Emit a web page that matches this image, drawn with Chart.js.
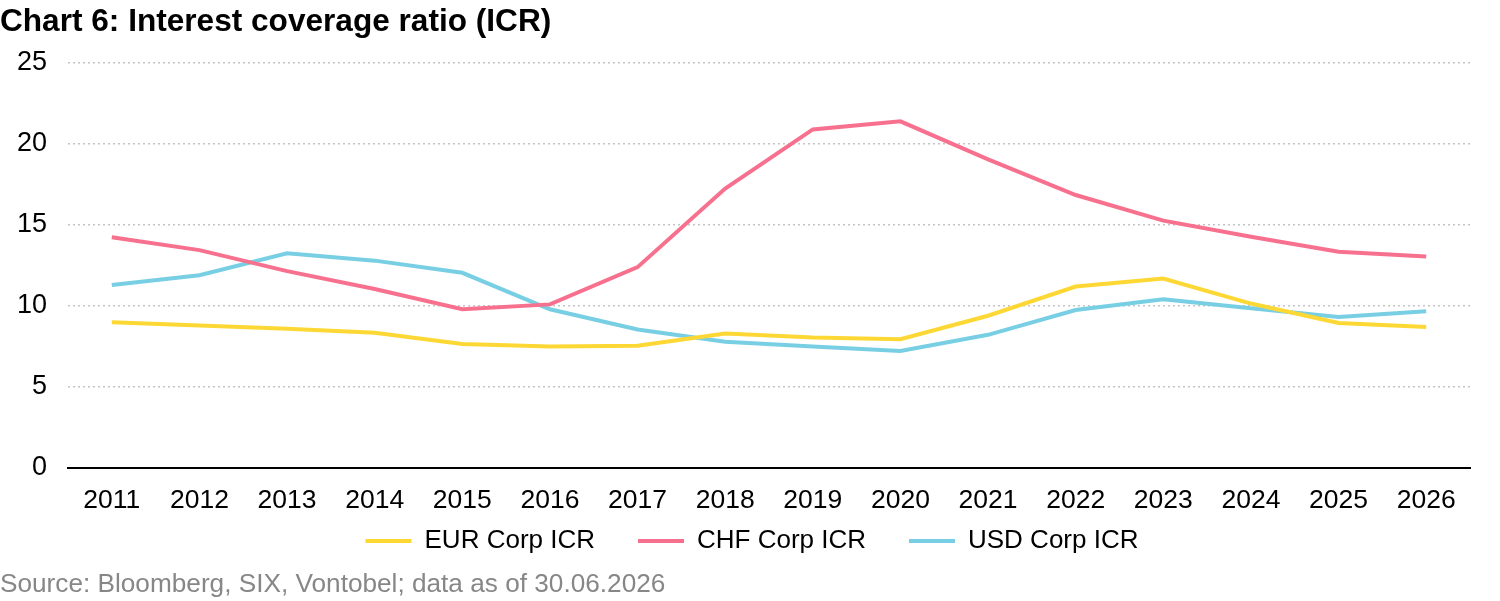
<!DOCTYPE html>
<html>
<head>
<meta charset="utf-8">
<script src="https://cdn.jsdelivr.net/npm/chart.js@4"></script>
<style>
  html, body { margin: 0; padding: 0; background: #fff; }
  body { width: 1500px; height: 601px; position: relative; overflow: hidden; font-family: "Liberation Sans", Arial, sans-serif; }
  #title { position: absolute; left: 0; top: 5px; font-size: 31.6px; line-height: 31px; font-weight: bold; color: #000; white-space: nowrap; }
  #source { position: absolute; left: 0; top: 570px; font-size: 26.2px; line-height: 26px; color: #878787; white-space: nowrap; }
  #wrap { position: absolute; left: 0; top: 0; width: 1500px; height: 601px; }
</style>
</head>
<body>
<div id="wrap"><canvas id="icrChart"></canvas></div>
<div id="title">Chart 6: Interest coverage ratio (ICR)</div>
<div id="source">Source: Bloomberg, SIX, Vontobel; data as of 30.06.2026</div>
<script>
// data
const years = ["2011", "2012", "2013", "2014", "2015", "2016", "2017", "2018",
  "2019", "2020", "2021", "2022", "2023", "2024", "2025", "2026"];
const eurIcr = [9.0, 8.8, 8.6, 8.35, 7.65, 7.5, 7.55, 8.3, 8.05, 7.95, 9.4, 11.2, 11.7, 10.15, 8.95, 8.7];
const chfIcr = [14.25, 13.45, 12.15, 11.05, 9.8, 10.1, 12.4, 17.25, 20.9, 21.4, 19.05, 16.85, 15.27, 14.28, 13.35, 13.05];
const usdIcr = [11.3, 11.9, 13.25, 12.8, 12.05, 9.8, 8.55, 7.8, 7.5, 7.22, 8.22, 9.75, 10.42, 9.86, 9.32, 9.68];
const yTicks = [0, 5, 10, 15, 20, 25];

// legend sits closer to the axis labels than chart.js puts it
const legendNudge = {
  id: "legendNudge",
  afterLayout: function (chart) {
    const lg = chart.legend;
    if (!lg) return;
    lg.top -= 31;
    lg.bottom -= 31;
    lg.left -= 17;
    lg.right -= 17;
  },
};

document.addEventListener("DOMContentLoaded", function () {
  const canvas = document.getElementById("icrChart");
  if (!canvas) return;

  const font = "'Liberation Sans', Arial, sans-serif";

  function lineSet(label, data, color) {
    return {
      label: label,
      data: data,
      borderColor: color,
      backgroundColor: color,
      borderWidth: 4,
      pointRadius: 0,
      pointHoverRadius: 0,
      pointStyle: "line",
      tension: 0,
      fill: false,
    };
  }

  new Chart(canvas.getContext("2d"), {
    type: "line",
    data: {
      labels: years,
      datasets: [
        lineSet("EUR Corp ICR", eurIcr, "#fdd835"),
        lineSet("CHF Corp ICR", chfIcr, "#f7718f"),
        lineSet("USD Corp ICR", usdIcr, "#78cfe3"),
      ],
    },
    plugins: [legendNudge],
    options: {
      responsive: true,
      maintainAspectRatio: false,
      animation: false,
      layout: { padding: { top: 63, right: 30, bottom: 6, left: 0 } },
      scales: {
        x: {
          offset: true,
          grid: { display: false, drawTicks: false },
          border: { display: true, color: "#000", width: 2 },
          ticks: { color: "#000", font: { family: font, size: 26.5 }, padding: 17, maxRotation: 0, autoSkip: false },
          afterFit: function (scale) { scale.height = 48; },
        },
        y: {
          min: 0,
          max: 25,
          afterBuildTicks: function (scale) {
            scale.ticks = yTicks.map(function (v) { return { value: v }; });
          },
          grid: { color: "#c4c4c4", lineWidth: 1.5, drawTicks: false },
          border: { display: false, dash: [2, 3] },
          ticks: { color: "#000", font: { family: font, size: 27 }, padding: 21 },
          afterFit: function (scale) { scale.width = 68; },
        },
      },
      plugins: {
        legend: {
          position: "bottom",
          fullSize: false,
          labels: {
            color: "#000",
            font: { family: font, size: 26 },
            usePointStyle: true,
            pointStyleWidth: 46,
            padding: 43,
          },
        },
        tooltip: { enabled: false },
      },
    },
  });
});
</script>
</body>
</html>
